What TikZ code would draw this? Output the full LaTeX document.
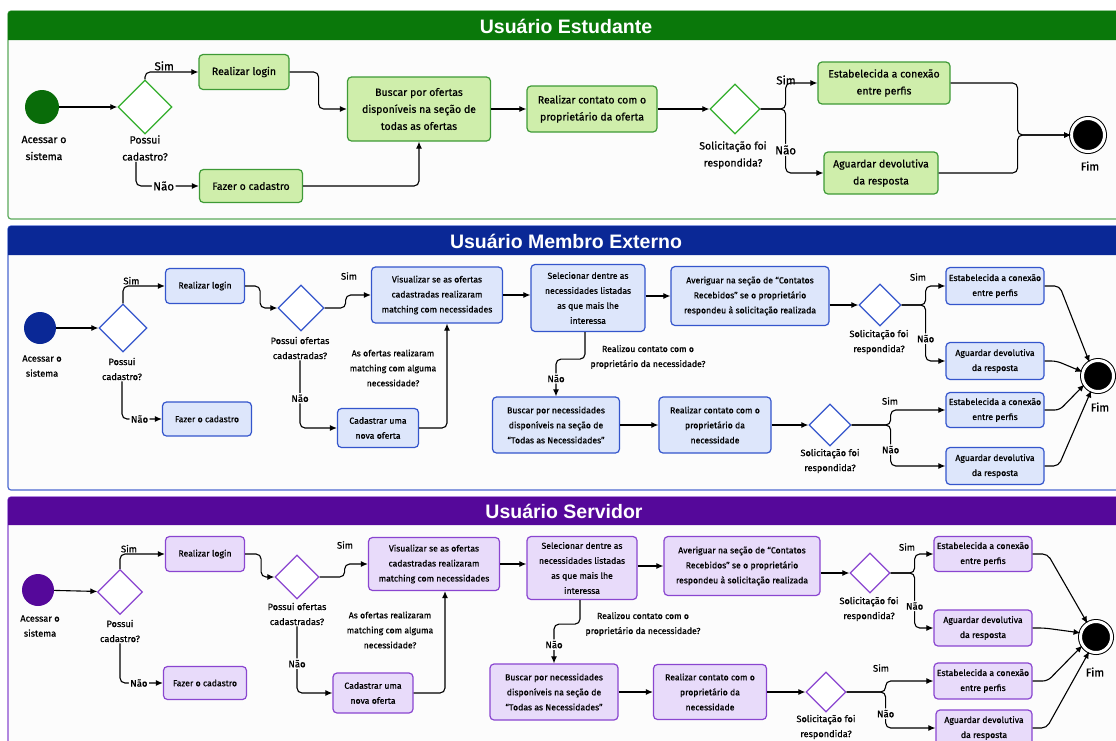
\documentclass[tikz,border=0pt]{standalone}
\usepackage{fontspec}
\setmainfont{Fira Sans}[FakeBold=0.6]
\newfontfamily\headfont{Liberation Sans}
\usepackage{tikz}
\usetikzlibrary{positioning,arrows.meta,shapes.geometric,calc}
\definecolor{estBar}{HTML}{0A780A}
\definecolor{estFrame}{HTML}{5CAA5C}
\definecolor{estFill}{HTML}{CFEEAB}
\definecolor{estLine}{HTML}{3E9A36}
\definecolor{extBar}{HTML}{0A2896}
\definecolor{extFrame}{HTML}{4A68D0}
\definecolor{extFill}{HTML}{DDE6FB}
\definecolor{extLine}{HTML}{3455CC}
\definecolor{srvBar}{HTML}{55089A}
\definecolor{srvFrame}{HTML}{8A4AD0}
\definecolor{srvFill}{HTML}{E8DBFA}
\definecolor{srvLine}{HTML}{8A45D0}

\begin{document}
\begin{tikzpicture}[
  x=1pt, y=-1pt,
  every node/.style={inner sep=1pt, align=center},
  bigtext/.style={font=\fontsize{10.5}{17}\selectfont},
  smalltext/.style={font=\fontsize{8.7}{15}\selectfont},
  asktext/.style={font=\fontsize{9.2}{15}\selectfont},
  bigtag/.style={font=\fontsize{11.5}{13}\selectfont},
  smalltag/.style={font=\fontsize{9.5}{11}\selectfont},
  act/.style={draw, rounded corners=4pt, line width=1.2pt, inner sep=2pt},
  estbox/.style={act, bigtext, fill=estFill, draw=estLine},
  extbox/.style={act, smalltext, fill=extFill, draw=extLine},
  srvbox/.style={act, smalltext, fill=srvFill, draw=srvLine},
  dec/.style={diamond, draw, line width=1.3pt, fill=white, inner sep=0pt, minimum size=#1},
  dec/.default=44pt,
  startdot/.style={circle, minimum size=#1, inner sep=0pt},
  fim/.style={circle, fill=black, draw=black, double=white, double distance=3pt, line width=1pt, minimum size=31pt, inner sep=0pt},
  flow/.style={draw, line width=1.1pt, rounded corners=5pt, -{Latex[length=7pt,width=6pt]}},
  tag/.style={fill=white!99!black, inner sep=1.5pt},
  title/.style={text=white, font=\headfont\bfseries\fontsize{19.5}{21}\selectfont}
]
\useasboundingbox (0,0) rectangle (1116,740);
\fill[white] (0,0) rectangle (1116,740);

% ================= Usuário Estudante =================
\draw[estFrame, line width=1.2pt, fill=white!99!black, rounded corners=3pt] (8,11) rectangle (1124,219);
\fill[estBar] (8,40) [rounded corners=3pt] -- (8,11) -- (1124,11) [sharp corners] -- (1124,40) -- cycle;
\node[title] (eTitle) at (566,26) {Usuário Estudante};

\node[startdot=34pt, fill=estBar!90!black] (eStart) at (42,107) {};
\node[bigtext] (eStartLbl) at (44,148) {Acessar o\\sistema};
\node[dec=54pt, draw=estLine!80!green] (eQ1) at (145,107) {};
\node[bigtext] (eQ1Lbl) at (145,148) {Possui\\cadastro?};
\node[estbox, minimum width=90pt, minimum height=35pt] (eLogin) at (244,72) {Realizar login};
\node[estbox, minimum width=103pt, minimum height=33pt] (eCad) at (251,186) {Fazer o cadastro};
\node[estbox, minimum width=143pt, minimum height=64pt] (eBusca) at (419,109) {Buscar por ofertas\\disponíveis na seção de\\todas as ofertas};
\node[estbox, minimum width=130pt, minimum height=46pt] (eContato) at (592,109) {Realizar contato com o\\proprietário da oferta};
\node[dec=50pt, draw=estLine!80!green] (eQ2) at (735,109) {};
\node[bigtext] (eQ2Lbl) at (733,155) {Solicitação foi\\respondida?};
\node[estbox, minimum width=132pt, minimum height=42pt] (eConex) at (884,83) {Estabelecida a conexão\\entre perfis};
\node[estbox, minimum width=114pt, minimum height=42pt] (eAguarda) at (881,173) {Aguardar devolutiva\\da resposta};
\node[fim, minimum size=33pt] (eFim) at (1088,135) {};
\node[bigtag] (eFimLbl) at (1090,166) {Fim};

\draw[flow] (eStart) -- (eQ1);
\draw[flow] (eQ1.north) |- node[pos=0.68, above, bigtag] {Sim} (eLogin.west);
\draw[flow] ([xshift=-9pt]eQ1Lbl.south) |- node[pos=0.72, tag, bigtag] {Não} (eCad.west);
\draw[flow] (eLogin.east) -- ++(29,0) |- (eBusca.west);
\draw[flow] (eCad.east) -| (eBusca.south);
\draw[flow] (eBusca) -- (eContato);
\draw[flow] (eContato) -- (eQ2);
\draw[flow] (eQ2.east) -- ++(25,0) |- (eConex.west);
\draw[flow] (eQ2.east) -- ++(25,0) |- node[pos=0.32, tag, bigtag] {Não} (eAguarda.west);
\node[bigtag] (eSim2) at (786,80) {Sim};
\draw[flow] (eConex.east) -- ++(67,0) |- (eFim.west);
\draw[flow] (eAguarda.east) -- ++(79,0) |- (eFim.west);

% ================= Usuário Membro Externo =================
\draw[extFrame, line width=1.2pt, fill=white!99!black, rounded corners=3pt] (8,226) rectangle (1124,490);
\fill[extBar] (8,255) [rounded corners=3pt] -- (8,226) -- (1124,226) [sharp corners] -- (1124,255) -- cycle;
\node[title] (mTitle) at (566,241) {Usuário Membro Externo};

\node[startdot=32pt, fill=extBar] (mStart) at (40,328) {};
\node[asktext] (mStartLbl) at (42,366) {Acessar o\\sistema};
\node[dec=48pt, draw=extLine] (mQ1) at (123,328) {};
\node[asktext] (mQ1Lbl) at (122,369) {Possui\\cadastro?};
\node[extbox, minimum width=79pt, minimum height=35pt] (mLogin) at (205,286) {Realizar login};
\node[extbox, minimum width=89pt, minimum height=34pt] (mCad) at (207,419) {Fazer o cadastro};
\node[dec=46pt, draw=extLine] (mQ2) at (301,308) {};
\node[asktext] (mQ2Lbl) at (300,348) {Possui ofertas\\cadastradas?};
\node[extbox, minimum width=131pt, minimum height=56pt] (mVis) at (437,295) {Visualizar se as ofertas\\cadastradas realizaram\\matching com necessidades};
\node[extbox, minimum width=81pt, minimum height=39pt] (mNova) at (378,428) {Cadastrar uma\\nova oferta};
\node[smalltext] (mMatchLbl) at (393,368) {As ofertas realizaram\\matching com alguma\\necessidade?};
\node[extbox, minimum width=114pt, minimum height=67pt] (mSel) at (588,298) {Selecionar dentre as\\necessidades listadas\\as que mais lhe\\interessa};
\node[extbox, minimum width=158pt, minimum height=59pt] (mAver) at (750,296) {Averiguar na seção de “Contatos\\Recebidos” se o proprietário\\respondeu à solicitação realizada};
\node[dec=42pt, draw=extLine] (mQ3) at (880,305) {};
\node[asktext] (mQ3Lbl) at (879,342) {Solicitação foi\\respondida?};
\node[extbox, minimum width=98pt, minimum height=37pt] (mConex) at (995,286) {Estabelecida a conexão\\entre perfis};
\node[extbox, minimum width=98pt, minimum height=37pt] (mAguarda) at (995,361) {Aguardar devolutiva\\da resposta};
\node[smalltext] (mContLbl) at (648,357) {Realizou contato com o\\proprietário da necessidade?};
\node[extbox, minimum width=127pt, minimum height=56pt] (mBusca) at (556,425) {Buscar por necessidades\\disponíveis na seção de\\“Todas as Necessidades”};
\node[extbox, minimum width=112pt, minimum height=56pt] (mContato) at (715,425) {Realizar contato com o\\proprietário da\\necessidade};
\node[dec=42pt, draw=extLine] (mQ4) at (830,425) {};
\node[asktext] (mQ4Lbl) at (830,461) {Solicitação foi\\respondida?};
\node[extbox, minimum width=98pt, minimum height=35pt] (mConex2) at (995,410) {Estabelecida a conexão\\entre perfis};
\node[extbox, minimum width=98pt, minimum height=37pt] (mAguarda2) at (995,466) {Aguardar devolutiva\\da resposta};
\node[fim] (mFim) at (1098,376) {};
\node[bigtag] (mFimLbl) at (1100,407) {Fim};

\draw[flow] (mStart) -- (mQ1);
\draw[flow] (mQ1.north) |- node[pos=0.6, above, smalltag] {Sim} (mLogin.west);
\draw[flow] (mQ1Lbl.south) |- node[pos=0.72, tag, smalltag] {Não} (mCad.west);
\draw[flow] (mLogin.east) -- ++(15,0) |- (mQ2.west);
\draw[flow] (mQ2.east) -- ++(21,0) |- (mVis.west);
\node[smalltag] (mSim2) at (349,276) {Sim};
\draw[flow] (mQ2Lbl.south) |- node[pos=0.28, tag, smalltag] {Não} (mNova.west);
\draw[flow] (mNova.east) -| ([xshift=10pt]mVis.south);
\draw[flow] (mVis.east) -- (mVis.east -| mSel.west);
\draw[flow] (mSel.east |- mAver.west) -- (mAver.west);
\draw[flow] (mAver.east |- mQ3.west) -- (mQ3.west);
\draw[flow] (mQ3.east) -- ++(24,0) |- (mConex.west);
\draw[flow] (mQ3.east) -- ++(24,0) |- node[pos=0.3, tag, smalltag] {Não} (mAguarda.west);
\node[smalltag] (mSim3) at (918,277) {Sim};
\draw[flow] ([xshift=-3pt]mSel.south) -- ++(0,27) -| node[pos=0.76, tag, smalltag] {Não} (mBusca.north);
\draw[flow] (mBusca) -- (mContato);
\draw[flow] (mContato) -- (mQ4);
\draw[flow] (mQ4.east) -- ++(39,0) |- (mConex2.west);
\node[smalltag] (mSim4) at (890,401) {Sim};
\draw[flow] (mQ4.east) -- ++(39,0) |- node[pos=0.3, tag, smalltag] {Não} (mAguarda2.west);
\draw[flow] (mConex.east) -- ++(15,0) -- (mFim.122);
\draw[flow] (mAguarda.east) -- ++(12,0) -- (mFim.165);
\draw[flow] (mConex2.east) -- ++(15,0) -- (mFim.212);
\draw[flow] (mAguarda2.east) -- ++(14,0) -- (mFim.245);

% ================= Usuário Servidor =================
\draw[srvFrame, line width=1.2pt, fill=white!99!black, rounded corners=3pt] (8,497) rectangle (1124,760);
\fill[srvBar] (8,525) [rounded corners=3pt] -- (8,497) -- (1124,497) [sharp corners] -- (1124,525) -- cycle;
\node[title] (sTitle) at (564,511) {Usuário Servidor};

\node[startdot=32pt, fill=srvBar] (sStart) at (38,590) {};
\node[asktext] (sStartLbl) at (40,626) {Acessar o\\sistema};
\node[dec=45pt, draw=srvLine] (sQ1) at (120,592) {};
\node[asktext] (sQ1Lbl) at (120,631) {Possui\\cadastro?};
\node[srvbox, minimum width=79pt, minimum height=35pt] (sLogin) at (205,554) {Realizar login};
\node[srvbox, minimum width=83pt, minimum height=33pt] (sCad) at (205,683) {Fazer o cadastro};
\node[dec=44pt, draw=srvLine] (sQ2) at (297,577) {};
\node[asktext] (sQ2Lbl) at (297,614) {Possui ofertas\\cadastradas?};
\node[srvbox, minimum width=131pt, minimum height=53pt] (sVis) at (434,564) {Visualizar se as ofertas\\cadastradas realizaram\\matching com necessidades};
\node[srvbox, minimum width=80pt, minimum height=40pt] (sNova) at (373,693) {Cadastrar uma\\nova oferta};
\node[smalltext] (sMatchLbl) at (390,630) {As ofertas realizaram\\matching com alguma\\necessidade?};
\node[srvbox, minimum width=110pt, minimum height=63pt] (sSel) at (582,568) {Selecionar dentre as\\necessidades listadas\\as que mais lhe\\interessa};
\node[srvbox, minimum width=156pt, minimum height=59pt] (sAver) at (742,566) {Averiguar na seção de “Contatos\\Recebidos” se o proprietário\\respondeu à solicitação realizada};
\node[dec=40pt, draw=srvLine] (sQ3) at (870,573) {};
\node[asktext] (sQ3Lbl) at (869,609) {Solicitação foi\\respondida?};
\node[srvbox, minimum width=98pt, minimum height=35pt] (sConex) at (983,554) {Estabelecida a conexão\\entre perfis};
\node[srvbox, minimum width=98pt, minimum height=36pt] (sAguarda) at (983,628) {Aguardar devolutiva\\da resposta};
\node[smalltext] (sContLbl) at (643,624) {Realizou contato com o\\proprietário da necessidade?};
\node[srvbox, minimum width=128pt, minimum height=56pt] (sBusca) at (554,692) {Buscar por necessidades\\disponíveis na seção de\\“Todas as Necessidades”};
\node[srvbox, minimum width=113pt, minimum height=55pt] (sContato) at (710,692) {Realizar contato com o\\proprietário da\\necessidade};
\node[dec=40pt, draw=srvLine] (sQ4) at (826,692) {};
\node[asktext] (sQ4Lbl) at (826,727) {Solicitação foi\\respondida?};
\node[srvbox, minimum width=98pt, minimum height=36pt] (sConex2) at (983,681) {Estabelecida a conexão\\entre perfis};
\node[srvbox, minimum width=96pt, minimum height=36pt] (sAguarda2) at (984,728) {Aguardar devolutiva\\da resposta};
\node[fim] (sFim) at (1096,637) {};
\node[bigtag] (sFimLbl) at (1095,672) {Fim};

\draw[flow] (sStart) -- (sQ1);
\draw[flow] (sQ1.north) |- node[pos=0.6, above, smalltag] {Sim} (sLogin.west);
\draw[flow] (sQ1Lbl.south) |- node[pos=0.72, tag, smalltag] {Não} (sCad.west);
\draw[flow] (sLogin.east) -- ++(16,0) |- (sQ2.west);
\draw[flow] (sQ2.east) -- ++(25,0) |- (sVis.west);
\node[smalltag] (sSim2) at (345,545) {Sim};
\draw[flow] (sQ2Lbl.south) |- node[pos=0.28, tag, smalltag] {Não} (sNova.west);
\draw[flow] (sNova.east) -| ([xshift=11pt]sVis.south);
\draw[flow] (sVis.east) -- (sVis.east -| sSel.west);
\draw[flow] (sSel.east |- sAver.west) -- (sAver.west);
\draw[flow] (sAver.east |- sQ3.west) -- (sQ3.west);
\draw[flow] (sQ3.east) -- ++(24,0) |- (sConex.west);
\draw[flow] (sQ3.east) -- ++(24,0) |- node[pos=0.3, tag, smalltag] {Não} (sAguarda.west);
\node[smalltag] (sSim3) at (907,547) {Sim};
\draw[flow] ([xshift=-2pt]sSel.south) -- ++(0,24) -| node[pos=0.76, tag, smalltag] {Não} (sBusca.north);
\draw[flow] (sBusca) -- (sContato);
\draw[flow] (sContato) -- (sQ4);
\draw[flow] (sQ4.east) -- ++(39,0) |- (sConex2.west);
\node[smalltag] (sSim4) at (881,668) {Sim};
\draw[flow] (sQ4.east) -- ++(39,0) |- node[pos=0.3, tag, smalltag] {Não} (sAguarda2.west);
\draw[flow] (sConex.east) -- ++(15,0) -- (sFim.122);
\draw[flow] (sAguarda.east) -- ++(12,0) -- (sFim.165);
\draw[flow] (sConex2.east) -- ++(15,0) -- (sFim.212);
\draw[flow] (sAguarda2.east) -- ++(14,0) -- (sFim.245);
\end{tikzpicture}
\end{document}
